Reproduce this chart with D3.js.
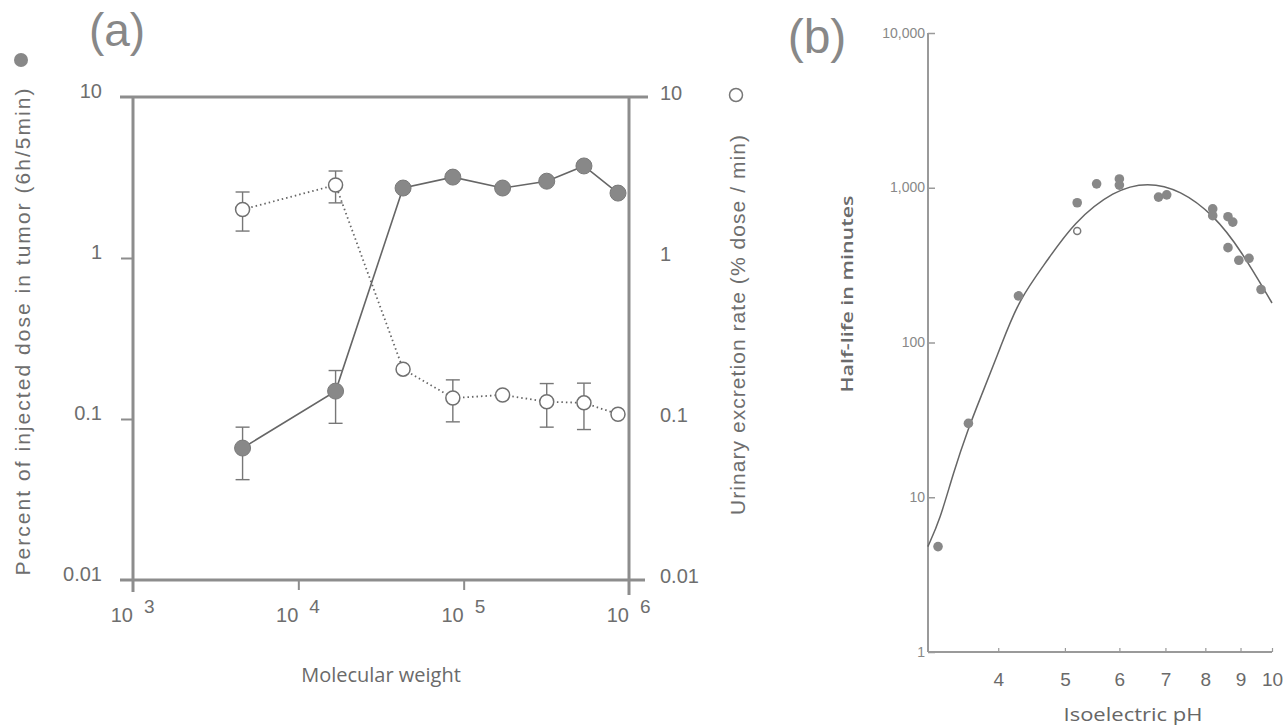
<!DOCTYPE html>
<html>
<head>
<meta charset="utf-8">
<script src="https://cdn.jsdelivr.net/npm/d3@7"></script>
<style>
  body { margin: 0; background: #fff; }
  svg { display: block; }
</style>
</head>
<body>
<svg id="chart" width="1288" height="728"></svg>
<script>
// ---- panel (a) data ----
const molWeight   = [4600, 16800, 43000, 86000, 172000, 318000, 534000, 858000];
const tumorDose   = [0.066, 0.149, 2.72, 3.18, 2.72, 3.0, 3.73, 2.53];
const tumorLow    = [0.042, 0.094, null, null, null, null, null, null];
const tumorHigh   = [0.089, 0.20, null, null, null, null, null, null];
const urinaryRate = [2.0, 2.84, 0.204, 0.135, 0.141, 0.128, 0.126, 0.107];
const urinaryLow  = [1.47, 2.2, null, 0.096, null, 0.089, 0.086, null];
const urinaryHigh = [2.57, 3.47, null, 0.175, null, 0.166, 0.167, null];
const aYTicks  = [0.01, 0.1, 1, 10];
const aYLabels = ["0.01", "0.1", "1", "10"];
const aXTicks  = [1e3, 1e4, 1e5, 1e6];
const aXExp    = ["3", "4", "5", "6"];

// ---- panel (b) data ----
const pIFilled = [3.27, 3.62, 4.28, 5.21, 5.56, 6.0, 6.0, 6.84, 7.03, 8.2, 8.2, 8.63, 8.77, 8.63, 8.95, 9.26, 9.64];
const halfLifeFilled = [4.8, 30, 200, 800, 1060, 1140, 1040, 870, 900, 730, 660, 650, 600, 410, 340, 350, 220];
const pIOpen = [5.21];
const halfLifeOpen = [525];
const fitPH = [3.16, 3.29, 3.44, 3.62, 3.77, 4.03, 4.28, 4.72, 5.14, 5.89, 6.6, 7.36, 8.23, 9.01, 10.0];
const fitHalfLife = [4.8, 7.1, 14.3, 28, 44, 93, 188, 341, 592, 967, 1090, 967, 667, 396, 180];
const bYTicks  = [1, 10, 100, 1000, 10000];
const bYLabels = ["1", "10", "100", "1,000", "10,000"];
const bXTicks  = [4, 5, 6, 7, 8, 9, 10];

const svg = d3.select("#chart");
const axisCol = "#8d8d8d";
const lineCol = "#666";
const dotCol = "#888";
const textCol = "#6e6e6e";
const sans = "'Liberation Sans', Arial, sans-serif";
const open = "'Open Sans', sans-serif";

// ================= panel (a) =================
const xA = d3.scaleLog().domain([1e3, 1e6]).range([133, 629]);
const yA = d3.scaleLog().domain([0.01, 10]).range([580, 97]);
const a = svg.append("g");

// frame
const frame = [
  [120, yA(10), 648, yA(10)],
  [120, yA(0.01), 645, yA(0.01)],
  [xA(1e3), yA(10), xA(1e3), 592],
  [xA(1e6), yA(10), xA(1e6), 595]
];
a.selectAll("line.frame").data(frame).join("line")
  .attr("class", "frame")
  .attr("x1", d => d[0]).attr("y1", d => d[1])
  .attr("x2", d => d[2]).attr("y2", d => d[3])
  .attr("stroke", axisCol).attr("stroke-width", 3);

// inner ticks
a.append("g")
  .attr("transform", `translate(${xA(1e3)},0)`)
  .call(d3.axisLeft(yA).tickValues([0.1, 1]).tickSize(12).tickFormat(""))
  .call(g => g.select(".domain").remove())
  .call(g => g.selectAll("line").attr("stroke", axisCol).attr("stroke-width", 2));
a.append("g")
  .attr("transform", `translate(0,${yA(0.01)})`)
  .call(d3.axisBottom(xA).tickValues([1e4, 1e5]).tickSize(10).tickFormat(""))
  .call(g => g.select(".domain").remove())
  .call(g => g.selectAll("line").attr("stroke", axisCol).attr("stroke-width", 2));

// y tick labels, both sides
a.selectAll("text.yl").data(aYTicks).join("text")
  .attr("class", "yl")
  .attr("x", 102).attr("y", d => yA(d) + 1)
  .attr("text-anchor", "end")
  .style("font-family", sans).style("font-size", "20px").attr("fill", textCol)
  .text((d, i) => aYLabels[i]);
a.selectAll("text.yr").data(aYTicks).join("text")
  .attr("class", "yr")
  .attr("x", 660).attr("y", d => yA(d) + 3)
  .attr("text-anchor", "start")
  .style("font-family", sans).style("font-size", "20px").attr("fill", textCol)
  .text((d, i) => aYLabels[i]);

// x tick labels with exponent
a.selectAll("text.xb").data(aXTicks).join("text")
  .attr("class", "xb")
  .attr("x", d => xA(d)).attr("y", 622)
  .attr("text-anchor", "end")
  .style("font-family", sans).style("font-size", "20px").attr("fill", textCol)
  .text("10");
a.selectAll("text.xe").data(aXTicks).join("text")
  .attr("class", "xe")
  .attr("x", d => xA(d) + 11).attr("y", 613)
  .style("font-family", sans).style("font-size", "19px").attr("fill", textCol)
  .text((d, i) => aXExp[i]);

// titles
a.append("text")
  .attr("x", 381).attr("y", 682)
  .attr("text-anchor", "middle")
  .style("font-family", open).style("font-size", "20px").attr("fill", "#6a6a6a")
  .text("Molecular weight");
a.append("text")
  .attr("transform", "translate(30,332) rotate(-90)")
  .attr("text-anchor", "middle")
  .attr("textLength", 487).attr("lengthAdjust", "spacing")
  .style("font-family", sans).style("font-size", "21px").attr("fill", textCol)
  .text("Percent of injected dose in tumor (6h/5min)");
a.append("text")
  .attr("transform", "translate(745,325) rotate(-90)")
  .attr("text-anchor", "middle")
  .attr("textLength", 380).attr("lengthAdjust", "spacing")
  .style("font-family", sans).style("font-size", "21px").attr("fill", textCol)
  .text("Urinary excretion rate (% dose / min)");
a.append("text")
  .attr("x", 117).attr("y", 46)
  .attr("text-anchor", "middle")
  .style("font-family", sans).style("font-size", "46px").attr("fill", "#888")
  .text("(a)");

// legend symbols
a.append("circle").attr("cx", 21).attr("cy", 60).attr("r", 7).attr("fill", dotCol);
a.append("circle").attr("cx", 736).attr("cy", 95).attr("r", 6.5)
  .attr("fill", "#fff").attr("stroke", "#777").attr("stroke-width", 1.5);

const idx = d3.range(molWeight.length);

// lines
a.append("path")
  .datum(idx)
  .attr("fill", "none").attr("stroke", lineCol).attr("stroke-width", 1.6)
  .attr("d", d3.line().x(i => xA(molWeight[i])).y(i => yA(tumorDose[i])));
a.append("path")
  .datum(idx)
  .attr("fill", "none").attr("stroke", lineCol).attr("stroke-width", 1.8)
  .attr("stroke-dasharray", "1.5,3")
  .attr("d", d3.line().x(i => xA(molWeight[i])).y(i => yA(urinaryRate[i])));

// error bars
function errBars(lo, hi) {
  const list = idx.filter(i => lo[i] != null);
  const g = a.append("g").attr("stroke", "#777").attr("stroke-width", 1.4);
  list.forEach(i => {
    const x = xA(molWeight[i]);
    g.append("line").attr("x1", x).attr("x2", x).attr("y1", yA(hi[i])).attr("y2", yA(lo[i]));
    [hi[i], lo[i]].forEach(v => {
      g.append("line").attr("x1", x - 7).attr("x2", x + 7).attr("y1", yA(v)).attr("y2", yA(v));
    });
  });
}
errBars(tumorLow, tumorHigh);
errBars(urinaryLow, urinaryHigh);

// points
a.selectAll("circle.tumor").data(idx).join("circle")
  .attr("class", "tumor")
  .attr("cx", i => xA(molWeight[i])).attr("cy", i => yA(tumorDose[i]))
  .attr("r", 8).attr("fill", dotCol).attr("stroke", "#7a7a7a").attr("stroke-width", 1);
a.selectAll("circle.urine").data(idx).join("circle")
  .attr("class", "urine")
  .attr("cx", i => xA(molWeight[i])).attr("cy", i => yA(urinaryRate[i]))
  .attr("r", 7).attr("fill", "#fff").attr("stroke", "#707070").attr("stroke-width", 1.5);

// ================= panel (b) =================
const xB = d3.scaleLog().domain([3.162, 10]).range([928, 1272]);
const yB = d3.scaleLog().domain([1, 10000]).range([652, 33]);
const b = svg.append("g");

b.append("line")
  .attr("x1", 928).attr("x2", 928).attr("y1", yB(10000)).attr("y2", yB(1))
  .attr("stroke", "#9a9a9a").attr("stroke-width", 2);
b.append("line")
  .attr("x1", 928).attr("x2", xB(10)).attr("y1", yB(1)).attr("y2", yB(1))
  .attr("stroke", "#9a9a9a").attr("stroke-width", 2);

b.append("g")
  .attr("transform", "translate(928,0)")
  .call(d3.axisLeft(yB).tickValues(bYTicks).tickSize(-7).tickPadding(10).tickFormat((d, i) => bYLabels[i]))
  .call(g => g.select(".domain").remove())
  .call(g => g.selectAll("line").attr("stroke", "#9a9a9a").attr("stroke-width", 1.5))
  .call(g => g.selectAll("text").attr("x", -3).attr("dy", "0.3em")
    .style("font-family", sans).style("font-size", "14px").attr("fill", "#888"));

b.append("g")
  .attr("transform", `translate(0,${yB(1)})`)
  .call(d3.axisBottom(xB).tickValues(bXTicks).tickSize(-4).tickPadding(20).tickFormat(d3.format("d")))
  .call(g => g.select(".domain").remove())
  .call(g => g.selectAll("line").attr("stroke", "#9a9a9a").attr("stroke-width", 1.2))
  .call(g => g.selectAll("text").attr("y", 34).attr("dy", 0)
    .style("font-family", sans).style("font-size", "19px").attr("fill", "#6a6a6a"));

b.append("text")
  .attr("x", 1133).attr("y", 721)
  .attr("text-anchor", "middle")
  .attr("textLength", 139).attr("lengthAdjust", "spacingAndGlyphs")
  .style("font-family", open).style("font-size", "18px").attr("fill", "#666")
  .text("Isoelectric pH");
b.append("text")
  .attr("transform", "translate(853,294) rotate(-90)")
  .attr("text-anchor", "middle")
  .attr("textLength", 197).attr("lengthAdjust", "spacingAndGlyphs")
  .style("font-family", open).style("font-size", "17px").style("font-weight", "600").attr("fill", "#6a6a6a")
  .text("Half-life in minutes");
b.append("text")
  .attr("x", 817).attr("y", 53)
  .attr("text-anchor", "middle")
  .style("font-family", sans).style("font-size", "48px").attr("fill", "#888")
  .text("(b)");

// fitted curve (smoothed through the traced points)
b.append("path")
  .datum(d3.range(fitPH.length))
  .attr("fill", "none").attr("stroke", "#666").attr("stroke-width", 1.5)
  .attr("d", d3.line().curve(d3.curveBasis)
    .x(i => xB(fitPH[i])).y(i => yB(fitHalfLife[i])));

b.selectAll("circle.pf").data(d3.range(pIFilled.length)).join("circle")
  .attr("class", "pf")
  .attr("cx", i => xB(pIFilled[i])).attr("cy", i => yB(halfLifeFilled[i]))
  .attr("r", 4.8).attr("fill", dotCol);
b.selectAll("circle.po").data(d3.range(pIOpen.length)).join("circle")
  .attr("class", "po")
  .attr("cx", i => xB(pIOpen[i])).attr("cy", i => yB(halfLifeOpen[i]))
  .attr("r", 3.5).attr("fill", "#fff").attr("stroke", "#7a7a7a").attr("stroke-width", 1.5);
</script>
</body>
</html>
